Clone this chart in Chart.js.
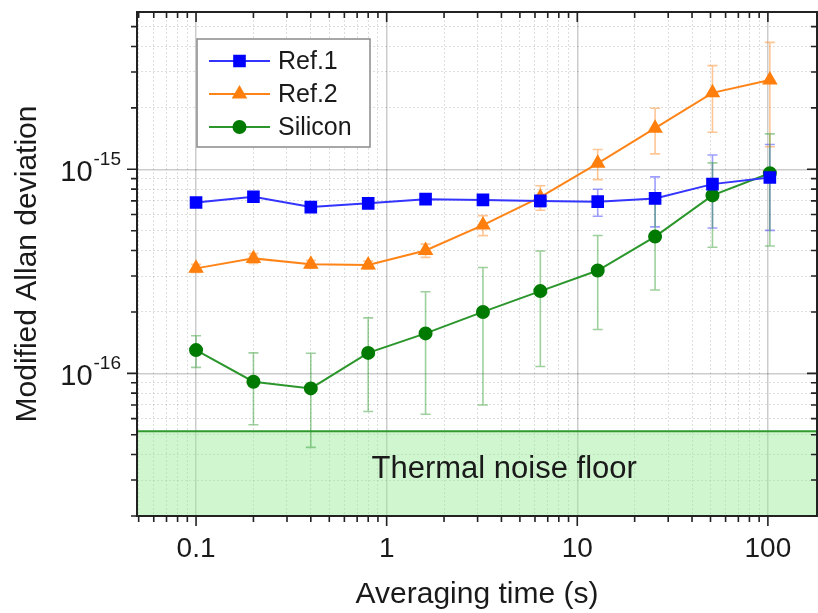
<!DOCTYPE html>
<html>
<head>
<meta charset="utf-8">
<script src="https://cdn.jsdelivr.net/npm/chart.js@4.4.0/dist/chart.umd.min.js"></script>
<style>
html, body { margin: 0; padding: 0; background: #fff; overflow: hidden; }
#wrap { width: 818px; height: 613px; }
</style>
</head>
<body>
<div id="wrap"><canvas id="adev"></canvas></div>
<script>
// averaging times (s)
var tau = [0.1, 0.2, 0.4, 0.8, 1.6, 3.2, 6.4, 12.8, 25.6, 51.2, 102.4];

// modified Allan deviation
var ref1 = [6.88e-16, 7.34e-16, 6.53e-16, 6.81e-16, 7.14e-16, 7.08e-16, 7.00e-16, 6.94e-16, 7.20e-16, 8.46e-16, 9.12e-16];
var ref1Err = [0.12e-16, 0.15e-16, 0.12e-16, 0.12e-16, 0.15e-16, 0.25e-16, 0.45e-16, 1.05e-16, 1.98e-16, 3.3e-16, 4.1e-16];

var ref2 = [3.27e-16, 3.66e-16, 3.43e-16, 3.40e-16, 4.00e-16, 5.33e-16, 7.30e-16, 1.07e-15, 1.59e-15, 2.37e-15, 2.74e-15];
var ref2Err = [0.15e-16, 0.2e-16, 0.15e-16, 0.15e-16, 0.3e-16, 0.6e-16, 1.0e-16, 1.8e-16, 4.0e-16, 8.5e-16, 14.5e-16];

var silicon = [1.30e-16, 9.10e-17, 8.44e-17, 1.26e-16, 1.57e-16, 2.00e-16, 2.53e-16, 3.19e-16, 4.68e-16, 7.45e-16, 9.56e-16];
var siliconErr = [0.23e-16, 0.35e-16, 0.41e-16, 0.61e-16, 0.94e-16, 1.3e-16, 1.45e-16, 1.55e-16, 2.12e-16, 3.3e-16, 5.35e-16];

var noiseFloor = 5.2e-17;
var noiseLabel = 'Thermal noise floor';

var xMin = 0.049, xMax = 181;
var yMin = 2.0e-17, yMax = 5.9e-15;
var xTickLabels = {0.1: '0.1', 1: '1', 10: '10', 100: '100'};
var yTickExps = [-15, -16];

var FONT = "'Liberation Sans', Arial, Helvetica, sans-serif";
var INK = '#1a1a1a';

Chart.defaults.font.family = FONT;
Chart.defaults.color = INK;

function decadeTicks(min, max) {
  var out = [];
  var e0 = Math.floor(Math.log10(min)), e1 = Math.ceil(Math.log10(max));
  for (var e = e0; e <= e1; e++) {
    for (var m = 1; m <= 9; m++) {
      var v = parseFloat((m * Math.pow(10, e)).toPrecision(6));
      if (v >= min && v <= max) out.push({value: v});
    }
  }
  return out;
}

function isMajor(v) {
  var l = Math.log10(v);
  return Math.abs(l - Math.round(l)) < 1e-6;
}

function pts(ys) {
  return tau.map(function(t, i) { return {x: t, y: ys[i]}; });
}

var gridColor = function(c) { return c.tick && isMajor(c.tick.value) ? 'rgba(0,0,0,0.2)' : 'rgba(0,0,0,0.13)'; };
var gridWidth = function(c) { return c.tick && isMajor(c.tick.value) ? 1.5 : 1; };
var gridDash = function(c) { return c.tick && isMajor(c.tick.value) ? [] : [2, 2]; };

// error bars, drawn just after the noise band so they sit under the lines
var errorBars = {
  id: 'errorBars',
  afterDatasetDraw: function(chart, args) {
    if (args.index !== 3) return;
    var xs = chart.scales.x, ys = chart.scales.y, c = chart.ctx;
    c.save();
    Chart.helpers.clipArea(c, chart.chartArea);
    chart.data.datasets.forEach(function(ds) {
      if (!ds.errors) return;
      c.strokeStyle = ds.errColor;
      c.lineWidth = 1.6;
      ds.data.forEach(function(p, i) {
        var e = ds.errors[i];
        var px = xs.getPixelForValue(p.x);
        var top = ys.getPixelForValue(p.y + e);
        var bot = ys.getPixelForValue(Math.max(p.y - e, yMin * 0.5));
        c.beginPath();
        c.moveTo(px, top); c.lineTo(px, bot);
        c.moveTo(px - 5, top); c.lineTo(px + 5, top);
        c.moveTo(px - 5, bot); c.lineTo(px + 5, bot);
        c.stroke();
      });
    });
    c.restore();
  }
};

// box frame with log ticks on all four sides, superscript y labels, band text, legend
var frame = {
  id: 'frame',
  afterDraw: function(chart) {
    var a = chart.chartArea, c = chart.ctx;
    var xs = chart.scales.x, ys = chart.scales.y;
    c.save();

    // band label
    c.font = '31px ' + FONT;
    c.fillStyle = INK;
    c.textAlign = 'center';
    c.textBaseline = 'middle';
    var bandTop = ys.getPixelForValue(noiseFloor);
    c.fillText(noiseLabel, a.left + 0.54 * (a.right - a.left), (bandTop + a.bottom) / 2 - 4);

    c.strokeStyle = '#222';
    c.lineWidth = 2;
    c.strokeRect(a.left, a.top, a.right - a.left, a.bottom - a.top);

    c.lineWidth = 1.6;
    c.beginPath();
    xs.ticks.forEach(function(t) {
      var px = xs.getPixelForValue(t.value);
      var len = isMajor(t.value) ? 10 : 6;
      c.moveTo(px, a.bottom); c.lineTo(px, a.bottom + len);
      c.moveTo(px, a.top); c.lineTo(px, a.top + len);
    });
    ys.ticks.forEach(function(t) {
      var py = ys.getPixelForValue(t.value);
      var len = isMajor(t.value) ? 10 : 6;
      c.moveTo(a.left, py); c.lineTo(a.left - len, py);
      c.moveTo(a.right, py); c.lineTo(a.right - len, py);
    });
    c.stroke();

    // y labels 10^n
    c.fillStyle = INK;
    c.textBaseline = 'alphabetic';
    c.textAlign = 'left';
    yTickExps.forEach(function(e) {
      var py = ys.getPixelForValue(Math.pow(10, e));
      var sup = String(e);
      c.font = '29px ' + FONT;
      var wBase = c.measureText('10').width;
      c.font = '19px ' + FONT;
      var wSup = c.measureText(sup).width;
      var x0 = a.left - 17 - wBase - wSup;
      c.font = '29px ' + FONT;
      c.fillText('10', x0, py + 12);
      c.font = '19px ' + FONT;
      c.fillText(sup, x0 + wBase + 1, py - 4);
    });

    // legend
    var lx = 197, ly = 39, lw = 173, lh = 108;
    c.fillStyle = '#fff';
    c.fillRect(lx, ly, lw, lh);
    c.strokeStyle = '#8a8a8a';
    c.lineWidth = 1.5;
    c.strokeRect(lx, ly, lw, lh);
    var row = 0;
    chart.data.datasets.forEach(function(ds) {
      if (!ds.errors) return;
      var cy = ly + 22 + row * 33;
      c.strokeStyle = ds.borderColor;
      c.lineWidth = ds.borderWidth;
      c.beginPath(); c.moveTo(lx + 12, cy); c.lineTo(lx + 73, cy); c.stroke();
      c.fillStyle = ds.pointBackgroundColor;
      c.strokeStyle = ds.pointBorderColor;
      Chart.helpers.drawPoint(c, {pointStyle: ds.pointStyle, radius: ds.pointRadius, rotation: 0, borderWidth: 1}, lx + 42.5, cy);
      c.fillStyle = INK;
      c.font = '25px ' + FONT;
      c.textBaseline = 'middle';
      c.fillText(ds.label, lx + 81, cy + 1);
      row++;
    });
    c.restore();
  }
};

var ctx = document.getElementById('adev').getContext('2d');

var chart = new Chart(ctx, {
  type: 'line',
  data: {
    datasets: [{
      label: 'Ref.1',
      data: pts(ref1),
      errors: ref1Err,
      errColor: 'rgba(40,40,255,0.45)',
      borderColor: '#3434ff',
      borderWidth: 2,
      pointStyle: 'rect',
      pointRadius: 7.5,
      pointBackgroundColor: '#0000ff',
      pointBorderColor: '#0000ff'
    }, {
      label: 'Ref.2',
      data: pts(ref2),
      errors: ref2Err,
      errColor: 'rgba(255,128,20,0.45)',
      borderColor: '#ff8418',
      borderWidth: 2,
      pointStyle: 'triangle',
      pointRadius: 7,
      pointBackgroundColor: '#ff7f0e',
      pointBorderColor: '#ff7f0e'
    }, {
      label: 'Silicon',
      data: pts(silicon),
      errors: siliconErr,
      errColor: 'rgba(40,150,40,0.45)',
      borderColor: '#2b962b',
      borderWidth: 2,
      pointStyle: 'circle',
      pointRadius: 6,
      pointBackgroundColor: '#007a00',
      pointBorderColor: '#007a00'
    }, {
      label: 'noise floor',
      data: [{x: xMin, y: noiseFloor}, {x: xMax, y: noiseFloor}],
      borderColor: '#2e9a2e',
      borderWidth: 2,
      backgroundColor: 'rgba(150,235,150,0.45)',
      fill: 'start',
      pointRadius: 0,
      order: 5
    }]
  },
  options: {
    responsive: true,
    maintainAspectRatio: false,
    animation: false,
    layout: {padding: {top: 12, right: 1, left: 0, bottom: 0}, autoPadding: false},
    plugins: {legend: {display: false}, tooltip: {enabled: false}},
    scales: {
      x: {
        type: 'logarithmic',
        min: xMin,
        max: xMax,
        afterBuildTicks: function(s) { s.ticks = decadeTicks(xMin, xMax); },
        afterFit: function(s) { s.height = 97; s.paddingLeft = 0; s.paddingRight = 0; },
        grid: {drawTicks: false, color: gridColor, lineWidth: gridWidth},
        border: {display: false, dash: gridDash},
        ticks: {
          autoSkip: false, maxRotation: 0, padding: 16,
          font: {size: 28}, color: INK,
          callback: function(v) { return xTickLabels[v] || ''; }
        },
        title: {display: true, text: 'Averaging time (s)', font: {size: 30}, color: INK, padding: {top: 0, bottom: 0}}
      },
      y: {
        type: 'logarithmic',
        min: yMin,
        max: yMax,
        afterBuildTicks: function(s) { s.ticks = decadeTicks(yMin, yMax); },
        afterFit: function(s) { s.width = 137; s.paddingTop = 0; s.paddingBottom = 0; },
        grid: {drawTicks: false, color: gridColor, lineWidth: gridWidth},
        border: {display: false, dash: gridDash},
        ticks: {padding: 0, callback: function() { return ''; }},
        title: {display: true, text: 'Modified Allan deviation', font: {size: 30}, color: INK, padding: {top: 10, bottom: 0}}
      }
    }
  },
  plugins: [errorBars, frame]
});
</script>
</body>
</html>
